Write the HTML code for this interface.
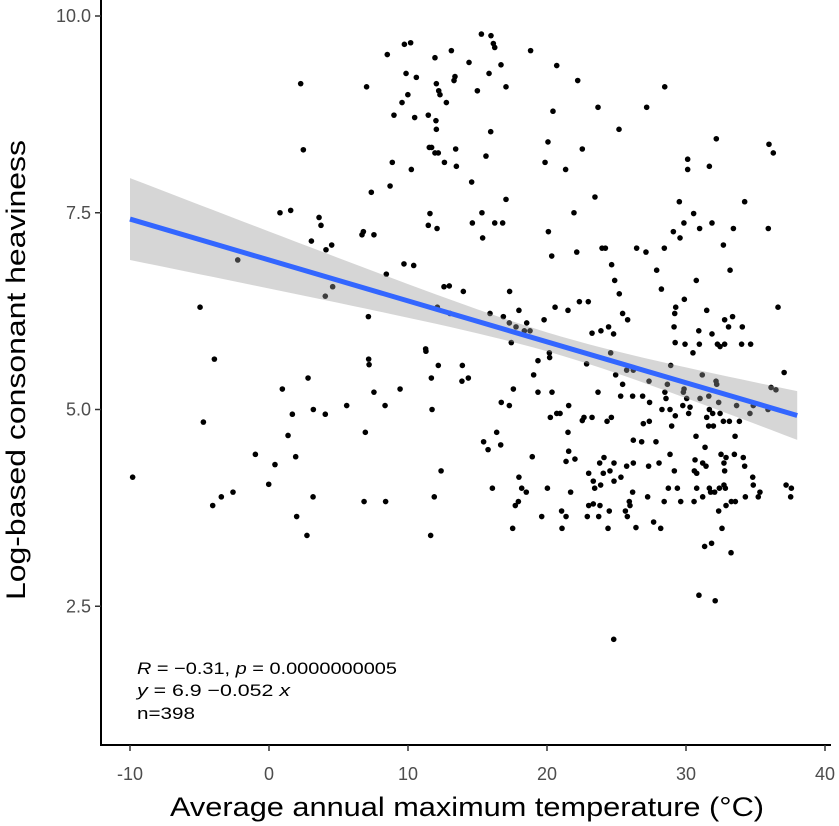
<!DOCTYPE html>
<html><head><meta charset="utf-8"><style>
html,body{margin:0;padding:0;background:#fff}
svg{display:block;font-family:"Liberation Sans",sans-serif}
</style></head><body>
<svg id="chart" width="839" height="826" viewBox="0 0 839 826" xmlns="http://www.w3.org/2000/svg">
<g id="points"></g>
<g id="fit"></g>
<g id="axes"></g>
<text x="137" y="674" font-size="17" textLength="260" lengthAdjust="spacingAndGlyphs" fill="#000"><tspan font-style="italic">R</tspan> = −0.31, <tspan font-style="italic">p</tspan> = 0.0000000005</text>
<text x="137" y="696" font-size="17" textLength="153" lengthAdjust="spacingAndGlyphs" fill="#000"><tspan font-style="italic">y</tspan> = 6.9 −0.052 <tspan font-style="italic">x</tspan></text>
<text x="137" y="719" font-size="17" textLength="58" lengthAdjust="spacingAndGlyphs" fill="#000">n=398</text>
<text x="467" y="816" font-size="27" text-anchor="middle" textLength="594" lengthAdjust="spacingAndGlyphs" fill="#000">Average annual maximum temperature (°C)</text>
<text transform="translate(25,370) rotate(-90)" font-size="27" text-anchor="middle" textLength="460" lengthAdjust="spacingAndGlyphs" fill="#000">Log-based consonant heaviness</text>
</svg>
<script>
const xs = [2.28,2.47,0.79,1.56,3.60,3.74,3.05,4.51,4.10,-2.25,4.58,4.05,-4.96,-3.93,2.81,0.96,5.59,3.19,1.68,4.05,-4.72,1.37,-0.98,1.92,0.43,-9.81,-0.02,-2.59,-3.43,-4.05,3.17,1.99,2.73,
15.28,15.97,16.14,16.24,9.74,10.19,8.51,13.12,11.94,18.82,14.39,16.69,20.70,22.21,7.02,9.86,10.60,12.04,13.38,13.31,15.83,17.05,14.99,12.21,12.30,9.99,9.57,12.76,8.99,10.48,11.46,12.01,12.04,20.43,15.95,20.07,22.54,11.53,11.70,11.94,12.18,13.43,15.61,12.62,13.48,8.87,10.24,19.86,21.34,14.58,7.36,8.71,17.05,11.58,11.46,12.09,14.63,15.32,16.24,16.81,15.37,20.10,21.94,6.69,6.79,7.55,20.34,22.14,9.71,10.41,8.44,12.59,12.97,13.98,17.31,7.15,12.11,13.02,15.90,16.86,17.98,17.29,17.77,18.54,18.37,18.78,19.79,20.58,21.51,22.33,17.43,11.27,11.29,7.17,7.20,12.18,13.91,11.68,13.88,14.34,7.55,9.43,8.35,11.73,6.93,17.58,16.71,17.29,19.35,20.19,20.17,19.04,19.35,20.36,21.56,20.24,20.70,20.94,22.54,22.66,21.51,16.38,15.44,15.76,16.67,12.38,18.94,21.56,21.37,22.01,17.98,18.18,18.51,20.03,16.07,17.94,17.72,21.70,21.05,21.37,19.62,17.53,21.08,6.84,8.39,11.89,11.63,
28.47,23.67,27.17,25.18,32.18,35.97,36.28,30.12,30.12,31.68,23.45,29.52,34.22,30.55,29.85,31.87,30.98,33.41,35.92,29.09,29.57,32.69,23.96,24.20,26.45,27.12,28.44,24.65,27.89,33.17,24.87,30.74,28.23,25.20,29.88,22.97,29.26,29.19,31.49,36.62,25.44,25.80,32.78,33.35,29.14,33.06,34.05,23.24,23.88,24.43,24.79,30.92,31.87,29.22,29.93,30.96,32.26,32.45,32.78,34.00,34.65,30.50,24.58,22.85,24.94,25.73,26.21,28.90,31.17,37.06,27.34,28.66,32.16,25.44,36.12,36.47,23.67,25.30,26.16,26.88,28.48,29.86,29.81,30.05,28.56,31.01,31.64,32.21,32.35,27.38,33.64,34.84,35.90,34.60,29.77,30.29,28.27,28.85,30.19,29.23,31.92,31.49,32.45,31.68,23.24,24.32,24.63,26.93,27.36,28.97,31.63,31.97,32.69,33.12,33.84,30.72,33.53,26.21,26.81,27.84,31.37,28.85,32.52,33.48,34.12,32.88,24.10,23.79,24.82,25.73,26.21,27.31,28.06,30.65,31.20,31.44,32.73,34.22,29.16,30.60,30.77,32.78,23.00,24.05,24.53,25.32,34.80,23.33,24.82,23.86,23.43,26.16,28.73,29.38,30.77,31.68,31.77,32.06,32.40,32.73,32.83,34.84,35.32,35.20,31.20,34.27,37.20,37.58,37.53,27.24,25.92,28.43,29.62,30.58,33.26,33.55,23.00,23.33,23.81,25.97,32.88,25.64,24.48,22.90,23.72,25.78,32.35,24.39,26.40,27.67,28.18,32.59,31.34,31.84,33.24,30.93,32.10,24.80];
const ys = [9.14,8.30,7.50,7.53,7.44,7.34,7.14,7.09,7.03,6.90,6.56,6.44,6.30,5.64,5.40,5.26,5.05,5.00,4.94,4.94,4.84,4.67,4.43,4.40,4.30,4.14,4.05,3.95,3.89,3.78,3.89,3.64,3.40,
9.77,9.75,9.65,9.60,9.64,9.66,9.51,9.56,9.47,9.56,9.41,9.38,9.37,9.18,9.10,9.27,9.22,9.14,9.23,9.18,9.27,9.10,9.05,9.05,9.00,9.00,8.90,8.90,8.74,8.71,8.74,8.67,8.56,8.79,8.53,8.40,8.31,8.33,8.33,8.26,8.26,8.31,8.22,8.14,8.09,8.14,8.05,8.14,8.05,7.89,7.76,7.84,7.67,7.49,7.34,7.30,7.37,7.50,7.37,7.37,7.18,7.26,7.50,7.22,7.26,7.22,6.95,7.00,6.85,6.83,6.72,6.56,6.57,6.50,6.50,6.18,6.30,6.22,6.22,6.18,6.26,6.10,6.05,6.10,6.00,6.00,6.14,6.30,6.26,6.37,5.85,5.77,5.74,5.64,5.57,5.56,5.56,5.40,5.36,5.40,5.22,5.26,5.05,5.00,4.71,5.26,5.09,5.05,5.62,5.66,5.72,5.44,5.22,5.22,5.05,4.90,4.95,4.95,4.86,4.90,4.71,4.71,4.59,4.49,4.55,4.22,4.40,4.47,4.34,4.37,4.14,4.00,3.95,4.00,4.00,3.83,3.78,3.95,3.71,3.64,3.64,3.49,3.49,3.83,3.83,3.89,3.40,
9.10,8.84,8.84,8.56,8.44,8.37,8.26,8.18,8.05,8.09,7.70,7.64,7.64,7.49,7.37,7.37,7.30,7.30,7.30,7.26,7.18,7.09,7.05,7.05,7.05,7.00,7.05,6.84,6.77,6.77,6.64,6.64,6.53,6.47,6.40,6.37,6.30,6.22,6.26,6.30,6.22,6.14,6.14,6.18,6.05,6.05,6.05,5.97,6.00,6.05,5.96,6.00,5.96,5.85,5.83,5.83,5.83,5.80,5.83,5.83,5.83,5.72,5.72,5.58,5.44,5.50,5.50,5.56,5.44,5.47,5.36,5.32,5.36,5.32,5.28,5.25,5.22,5.17,5.17,5.17,5.22,5.26,5.22,5.14,5.14,5.14,5.17,5.32,5.09,5.09,5.05,5.05,5.00,4.95,5.05,5.03,5.00,5.00,4.95,4.92,4.95,4.90,4.95,5.00,4.90,4.85,4.90,4.82,4.85,4.79,4.79,4.79,4.85,4.85,4.85,4.66,4.66,4.61,4.59,4.59,4.52,4.43,4.43,4.43,4.39,4.39,4.39,4.32,4.32,4.28,4.32,4.28,4.32,4.36,4.32,4.28,4.32,4.28,4.22,4.22,4.19,4.22,4.19,4.19,4.22,4.14,4.14,4.09,4.09,4.04,4.00,3.95,4.00,4.00,4.00,4.00,3.95,3.95,4.00,4.04,4.00,4.04,3.95,3.89,3.89,3.89,4.04,4.00,3.89,3.89,3.83,3.83,3.83,3.83,3.83,3.83,3.78,3.80,3.78,3.78,3.78,3.71,3.71,3.64,3.64,3.64,3.71,3.49,3.50,3.57,3.49,3.49,3.26,3.30,3.18,2.64,2.57,2.08];
const fitIntercept = 6.9;
const fitSlope = -0.052;
const fitRange = [-10, 38];
const ciMin = 0.12, ciCenter = 20.7, ciSlope = 0.0165;
const xTicks = [-10, 0, 10, 20, 30, 40];
const xTickLabels = ["-10", "0", "10", "20", "30", "40"];
const yTicks = [2.5, 5.0, 7.5, 10.0];
const yTickLabels = ["2.5", "5.0", "7.5", "10.0"];

const NS = "http://www.w3.org/2000/svg";
const sx = v => 269 + 13.9 * v;
const sy = v => 16 + (10 - v) * 78.7;
function mk(tag, attrs, parent){ const e = document.createElementNS(NS, tag); for (const k in attrs) e.setAttribute(k, attrs[k]); parent.appendChild(e); return e; }

const pg = document.getElementById('points');
for (let i = 0; i < xs.length && i < ys.length; i++) {
  const c = mk('circle', {cx: sx(xs[i]), cy: sy(ys[i]), r: 2.8, fill: '#000'}, pg);
  
  
}

const fg = document.getElementById('fit');
const up = [], lo = [];
for (let k = 0; k <= 48; k++) {
  const x = fitRange[0] + (fitRange[1] - fitRange[0]) * k / 48;
  const yhat = fitIntercept + fitSlope * x;
  const h = Math.sqrt(ciMin * ciMin + Math.pow(ciSlope * (x - ciCenter), 2));
  up.push(sx(x) + ',' + sy(yhat + h));
  lo.unshift(sx(x) + ',' + sy(yhat - h));
}
const band = mk('polygon', {points: up.concat(lo).join(' '), fill: '#999999', 'fill-opacity': 0.4}, fg);


const ln = mk('line', {x1: sx(fitRange[0]), y1: sy(fitIntercept + fitSlope * fitRange[0]), x2: sx(fitRange[1]), y2: sy(fitIntercept + fitSlope * fitRange[1]), stroke: '#3366FF', 'stroke-width': 5}, fg);



const ag = document.getElementById('axes');
const xa = mk('line', {x1: 100, y1: 745, x2: 831, y2: 745, stroke: '#000', 'stroke-width': 2}, ag);


const ya = mk('line', {x1: 101, y1: 0, x2: 101, y2: 746, stroke: '#000', 'stroke-width': 2}, ag);


xTicks.forEach((t, i) => {
  const tk = mk('line', {x1: sx(t), y1: 745, x2: sx(t), y2: 751, stroke: '#333', 'stroke-width': 1.5}, ag);
  
  
  const tl = mk('text', {x: sx(t), y: 780, 'font-size': 18, 'text-anchor': 'middle', fill: '#4d4d4d'}, ag);
  tl.textContent = xTickLabels[i];
  
  
});
yTicks.forEach((t, i) => {
  const tk = mk('line', {x1: 95, y1: sy(t), x2: 101, y2: sy(t), stroke: '#333', 'stroke-width': 1.5}, ag);
  
  
  const tl = mk('text', {x: 91, y: sy(t) + 6, 'font-size': 18, 'text-anchor': 'end', fill: '#4d4d4d'}, ag);
  tl.textContent = yTickLabels[i];
  
  
});
</script>
</body></html>
